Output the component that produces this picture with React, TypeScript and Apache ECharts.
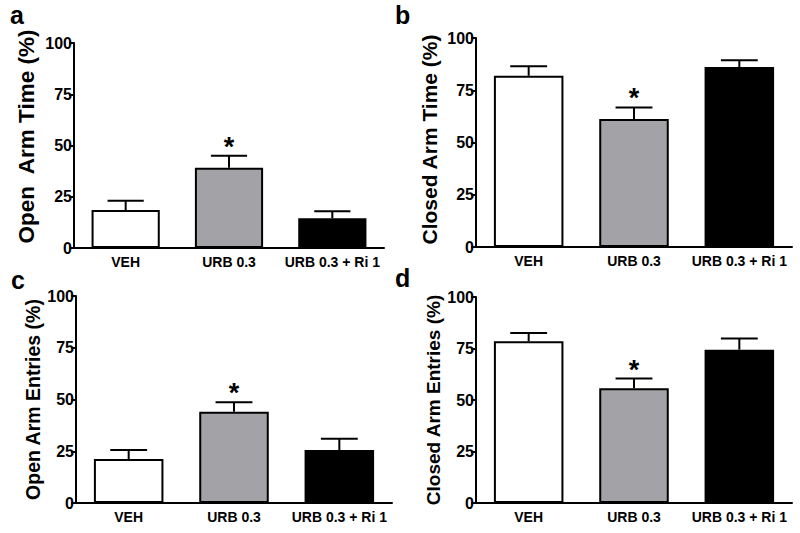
import React, { useEffect, useRef } from "react";
import * as echarts from "echarts";

const categories = ["VEH", "URB 0.3", "URB 0.3 + Ri 1"];
const barColors = ["#ffffff", "#a3a3a7", "#000000"];
const yTicks = [0, 25, 50, 75, 100];

const openArmTime = [18.5, 39.2, 14.5];
const openArmTimeSem = [4.5, 5.8, 3.4];
const closedArmTime = [81.9, 61.2, 86.1];
const closedArmTimeSem = [4.6, 5.6, 3.3];
const openArmEntries = [21.2, 44.1, 25.6];
const openArmEntriesSem = [4.4, 4.6, 5.4];
const closedArmEntries = [78.5, 55.7, 74.4];
const closedArmEntriesSem = [4.0, 4.7, 5.5];
const significant = [false, true, false];

const panelLetters = ["a", "b", "c", "d"];
const panelTitles = [
  "Open  Arm Time (%)",
  "Closed Arm Time (%)",
  "Open Arm Entries (%)",
  "Closed Arm Entries (%)",
];

const FONT = "'Liberation Sans', Arial, Helvetica, sans-serif";

export default function App() {
  const ref = useRef<HTMLDivElement>(null);
  useEffect(() => {
    document.body.style.margin = "0";
    if (!ref.current) return;
    const chart = echarts.init(ref.current, null, { renderer: "svg" });

    const panels = [
      { means: openArmTime, sems: openArmTimeSem, grid: { left: 74, top: 43, width: 310, height: 205 }, gap: 36, fs: 22.5, shift: 18 },
      { means: closedArmTime, sems: closedArmTimeSem, grid: { left: 476, top: 38, width: 316, height: 209 }, gap: 36, fs: 21, shift: 6 },
      { means: openArmEntries, sems: openArmEntriesSem, grid: { left: 76, top: 296, width: 316, height: 207 }, gap: 32, fs: 19.5, shift: 0 },
      { means: closedArmEntries, sems: closedArmEntriesSem, grid: { left: 476, top: 297, width: 316, height: 206 }, gap: 33, fs: 19, shift: 0 },
    ];

    const grids: any[] = [];
    const xAxes: any[] = [];
    const yAxes: any[] = [];
    const series: any[] = [];

    panels.forEach((p, i) => {
      grids.push({ ...p.grid, containLabel: false });
      xAxes.push({
        type: "category",
        gridIndex: i,
        data: categories,
        axisLine: { show: true, lineStyle: { color: "#000", width: 2 } },
        axisTick: { show: false },
        axisLabel: {
          color: "#000",
          fontWeight: "bold",
          fontSize: 14,
          fontFamily: FONT,
          margin: 7,
          interval: 0,
        },
        splitLine: { show: false },
      });
      yAxes.push({
        type: "value",
        gridIndex: i,
        min: yTicks[0],
        max: yTicks[yTicks.length - 1],
        interval: 25,
        name: panelTitles[i],
        nameLocation: "middle",
        nameGap: p.gap,
        nameRotate: 90,
        nameTextStyle: {
          color: "#000",
          fontWeight: "bold",
          fontSize: p.fs,
          fontFamily: FONT,
          padding: [0, 0, 0, p.shift],
        },
        axisLine: { show: true, lineStyle: { color: "#000", width: 2 } },
        axisTick: { show: true, length: 5, lineStyle: { color: "#000", width: 2 } },
        axisLabel: {
          color: "#000",
          fontWeight: "bold",
          fontSize: 16,
          fontFamily: FONT,
          margin: 2,
        },
        splitLine: { show: false },
      });
      series.push({
        type: "bar",
        xAxisIndex: i,
        yAxisIndex: i,
        barWidth: "66%",
        data: p.means.map((v, k) => ({
          value: v,
          itemStyle: { color: barColors[k], borderColor: "#000", borderWidth: 2 },
        })),
        z: 2,
      });
      series.push({
        type: "custom",
        xAxisIndex: i,
        yAxisIndex: i,
        z: 3,
        data: p.means.map((v, k) => [k, v, v + p.sems[k], significant[k] ? 1 : 0]),
        renderItem: (params: any, api: any) => {
          const x = api.value(0);
          const base = api.coord([x, api.value(1)]);
          const top = api.coord([x, api.value(2)]);
          const band = api.size([1, 0])[0];
          const half = band * 0.175;
          const children: any[] = [
            {
              type: "line",
              shape: { x1: base[0], y1: base[1], x2: top[0], y2: top[1] },
              style: { stroke: "#000", lineWidth: 2 },
            },
            {
              type: "line",
              shape: { x1: top[0] - half, y1: top[1], x2: top[0] + half, y2: top[1] },
              style: { stroke: "#000", lineWidth: 2 },
            },
          ];
          if (api.value(3) === 1) {
            children.push({
              type: "text",
              x: top[0],
              y: top[1] - 9,
              style: {
                text: "*",
                fill: "#000",
                font: `bold 27px ${FONT}`,
                align: "center",
                verticalAlign: "middle",
              },
            });
          }
          return { type: "group", children };
        },
      });
    });

    const letterPos = [
      { x: 10, y: 22 },
      { x: 395, y: 22 },
      { x: 11, y: 287 },
      { x: 395, y: 285 },
    ];

    chart.setOption({
      animation: false,
      backgroundColor: "#fff",
      grid: grids,
      xAxis: xAxes,
      yAxis: yAxes,
      series,
      graphic: letterPos.map((pos, i) => ({
        type: "text",
        left: pos.x,
        top: pos.y - 20,
        style: {
          text: panelLetters[i],
          fill: "#000",
          font: `bold 25px ${FONT}`,
        },
      })),
    });
    return () => chart.dispose();
  }, []);

  return (
    <div
      ref={ref}
      style={{ position: "fixed", left: 0, top: 0, width: 800, height: 533, background: "#fff" }}
    />
  );
}
